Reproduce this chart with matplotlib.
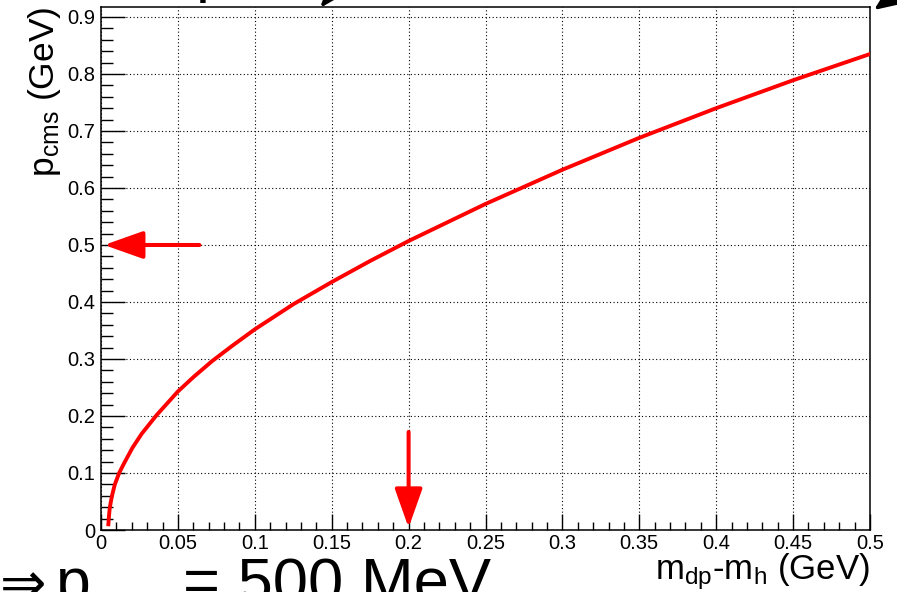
import matplotlib
matplotlib.use('Agg')
import matplotlib.pyplot as plt
import matplotlib.ticker as ticker
from matplotlib.patches import FancyArrowPatch

# p_cms vs mass splitting
dm = [0.0048, 0.0052, 0.0057, 0.0065, 0.0074, 0.009, 0.0118, 0.015, 0.0204,
      0.0265, 0.0363, 0.05, 0.06, 0.0721, 0.085, 0.1, 0.125, 0.15, 0.175,
      0.2, 0.25, 0.3, 0.35, 0.4, 0.45, 0.5]
p_cms = [0.010, 0.025, 0.039, 0.051, 0.063, 0.080, 0.100, 0.117, 0.144,
         0.169, 0.202, 0.243, 0.268, 0.296, 0.3225, 0.352, 0.396, 0.435, 0.472,
         0.507, 0.572, 0.632, 0.688, 0.740, 0.789, 0.835]

# working point marked with arrows
dm_sel = 0.2
p_sel = 0.5
arrow_tail_x = 0.064
arrow_tail_y = 0.172

plt.rcParams['font.family'] = ['Liberation Sans', 'DejaVu Sans']
plt.rcParams['mathtext.fontset'] = 'custom'
plt.rcParams['mathtext.rm'] = 'Liberation Sans'
plt.rcParams['mathtext.it'] = 'Liberation Sans:italic'
plt.rcParams['mathtext.bf'] = 'Liberation Sans:bold'

fig = plt.figure(figsize=(8.97, 5.92), dpi=100)
ax = fig.add_axes([101/897, 1 - 530/592, 769/897, 523/592])

ax.plot(dm, p_cms, color='red', lw=2.8, solid_joinstyle='round', zorder=3)

ax.set_xlim(0, 0.5)
ax.set_ylim(0, 0.9175)

# ROOT-like axes: inner ticks on left/bottom, dotted grid on majors
ax.xaxis.set_major_locator(ticker.MultipleLocator(0.05))
ax.xaxis.set_minor_locator(ticker.MultipleLocator(0.01))
ax.yaxis.set_major_locator(ticker.MultipleLocator(0.1))
ax.yaxis.set_minor_locator(ticker.MultipleLocator(0.02))
fmt = ticker.FuncFormatter(lambda v, pos: '%g' % round(v, 3))
ax.xaxis.set_major_formatter(fmt)
ax.yaxis.set_major_formatter(fmt)

ax.tick_params(axis='both', which='both', direction='in', top=False, right=False,
               labelsize=14.5, color='black', width=1.0)
ax.tick_params(axis='x', which='major', length=11.5, pad=3)
ax.tick_params(axis='x', which='minor', length=5.8)
ax.tick_params(axis='y', which='major', length=17, pad=4)
ax.tick_params(axis='y', which='minor', length=8.6)

ax.grid(True, which='major', color='black', lw=0.8, linestyle=(0, (1, 2.2)))
ax.set_axisbelow(True)
for s in ax.spines.values():
    s.set_linewidth(1.1)
    s.set_color('black')

ax.set_xlabel(r'$\mathrm{m_{dp}}$-$\mathrm{m_{h}}$ (GeV)', fontsize=25, loc='right')
ax.xaxis.set_label_coords(1.0, -0.041)
ax.set_ylabel(r'$\mathrm{p_{cms}}$ (GeV)', fontsize=25.5, loc='top')
ax.yaxis.set_label_coords(-0.049, 1.0)

# arrows pointing at the chosen p_cms and mass splitting
for tail, tip in [((arrow_tail_x, p_sel), (0.002, p_sel)),
                  ((dm_sel, arrow_tail_y), (dm_sel, 0.004))]:
    ax.add_patch(FancyArrowPatch(tail, tip, arrowstyle='-|>,head_length=24,head_width=8.5',
                                 mutation_scale=1, color='red', lw=2.9,
                                 shrinkA=0, shrinkB=0, zorder=4, clip_on=False))

# slide text around the plot, partly cut off by the page edge
fig.text(0.0, -0.017, '\u21d2', fontsize=40, family='DejaVu Sans', va='baseline')
fig.text(56/897, -0.017, 'p', fontsize=45, va='baseline')
fig.text(94/897, -0.075, 'cms', fontsize=30, va='baseline')
fig.text(183/897, -0.017, '= 500 MeV', fontsize=45.5, va='baseline')
fig.text(196/897, 1 + 10/592, 'p', fontsize=45, va='baseline')
fig.add_artist(FancyArrowPatch((360/897, 1 + 40/592), (320/897, 1 - 8/592),
                               transform=fig.transFigure,
                               arrowstyle='-|>,head_length=24,head_width=9',
                               mutation_scale=1, color='black', lw=2.5,
                               shrinkA=0, shrinkB=0))
fig.add_artist(FancyArrowPatch((930/897, 1 + 30/592), (874/897, 1 - 10/592),
                               transform=fig.transFigure,
                               arrowstyle='-|>,head_length=26,head_width=11',
                               mutation_scale=1, color='black', lw=2.5,
                               shrinkA=0, shrinkB=0))

fig.savefig('out.png', dpi=100)
